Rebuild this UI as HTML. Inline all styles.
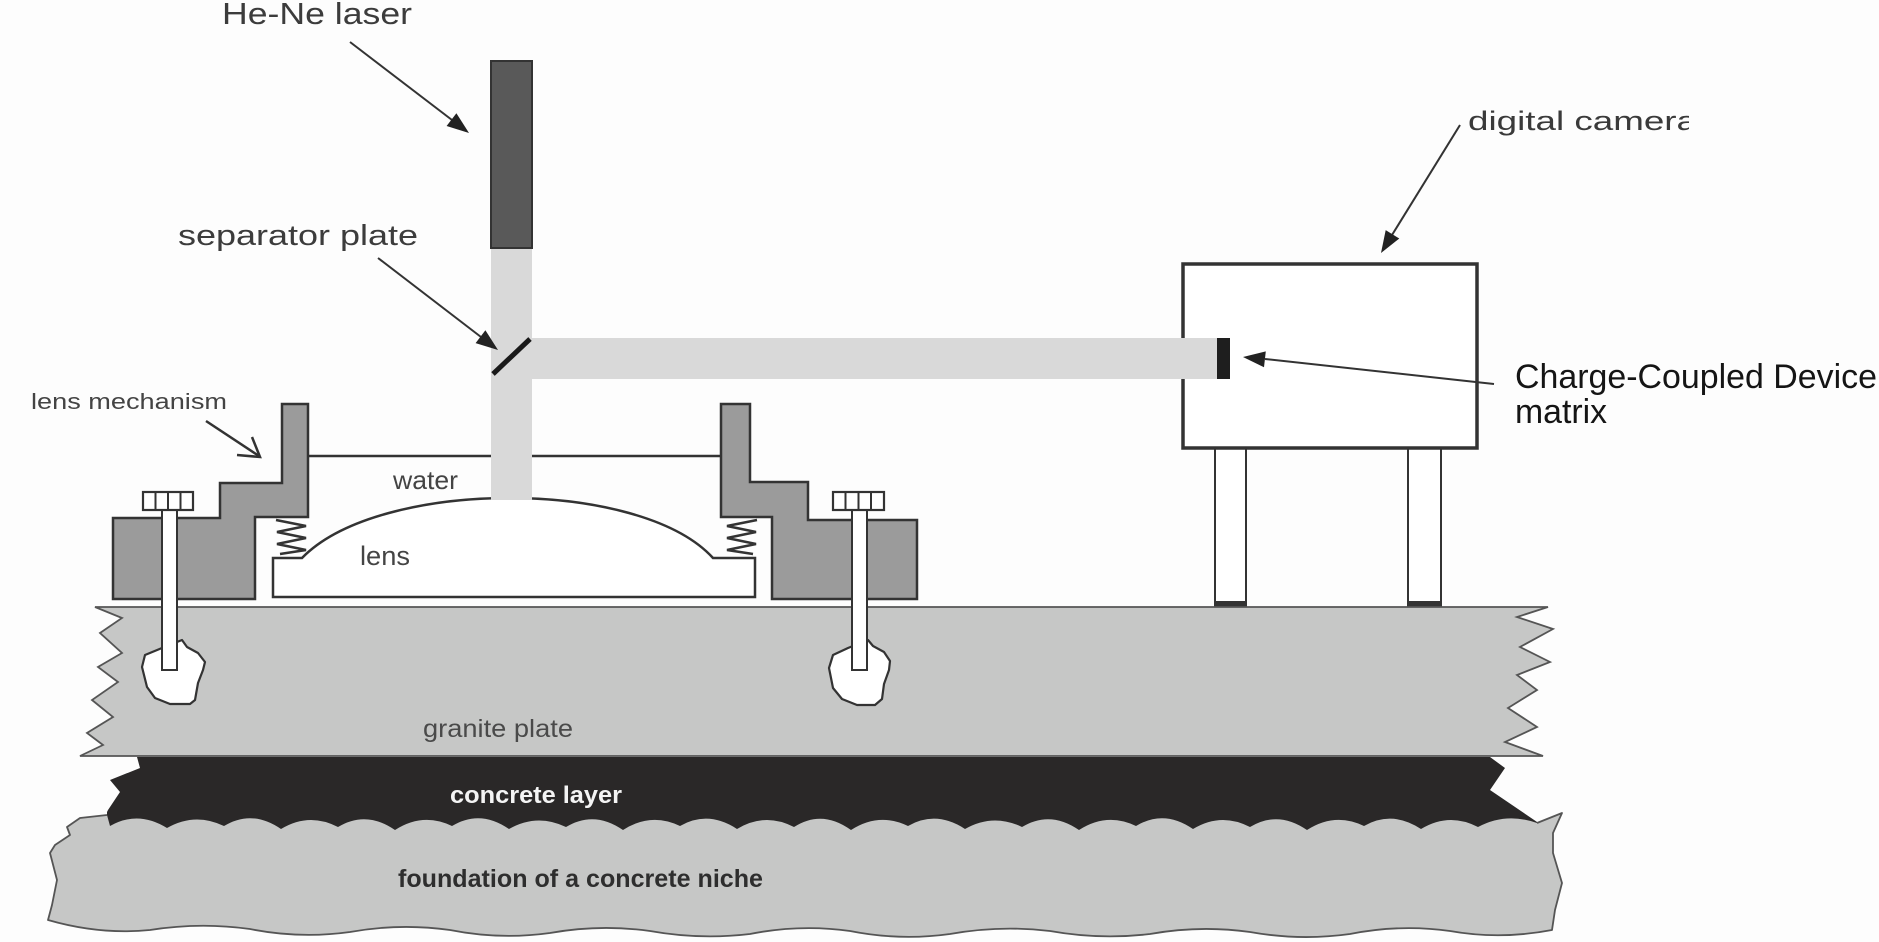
<!DOCTYPE html>
<html>
<head>
<meta charset="utf-8">
<style>
  html,body{margin:0;padding:0;background:#fdfdfd;}
  svg{display:block;}
  text{font-family:"Liberation Sans",Arial,sans-serif;}
</style>
</head>
<body>
<svg width="1879" height="942" viewBox="0 0 1879 942" xmlns="http://www.w3.org/2000/svg">
  <defs>
    <clipPath id="camclip"><rect x="0" y="0" width="1689" height="942"/></clipPath>
  </defs>
  <rect x="0" y="0" width="1879" height="942" fill="#fdfdfd"/>

  <!-- concrete layer (black) -->
  <path d="M137,757 L1490,757 L1505,768 L1490,790 L1540,824 L1540,845 L107,845 L107,812 L108,810 L120,792 L110,780 L140,768 Z" fill="#2a2828"/>

  <!-- foundation fill (no stroke on top edge) -->
  <path d="M107,815 L110,826 Q138,810 167,828 Q195,812 224,826 Q252,809 281,829 Q309,812 338,827 Q366,810 395,830 Q423,812 452,826 Q480,809 509,829 Q537,813 566,827 Q594,810 623,830 Q651,812 680,826 Q708,810 737,829 Q765,812 794,827 Q822,809 851,830 Q879,812 908,826 Q936,810 965,829 Q993,813 1022,827 Q1050,810 1079,830 Q1107,812 1136,826 Q1164,809 1193,829 Q1221,812 1250,827 Q1278,810 1307,830 Q1335,812 1364,826 Q1392,810 1421,829 Q1449,812 1478,827 Q1506,812 1537,823 L1562,813 L1553,833 L1553,853 L1562,883 L1555,910 L1552,930 Q1500,940 1450,931 Q1400,924 1350,934 Q1300,941 1250,932 Q1200,925 1150,934 Q1100,940 1050,931 Q1000,925 950,934 Q900,941 850,931 Q800,924 750,934 Q700,940 650,931 Q600,924 550,933 Q500,940 450,930 Q400,923 350,932 Q300,939 250,929 Q200,922 150,930 Q100,935 48,920 L52,905 L57,880 L50,853 L55,845 L70,835 L67,827 L80,818 Z" fill="#c6c7c6"/>
  <!-- foundation outline: sides and bottom -->
  <path d="M1537,823 L1562,813 L1553,833 L1553,853 L1562,883 L1555,910 L1552,930 Q1500,940 1450,931 Q1400,924 1350,934 Q1300,941 1250,932 Q1200,925 1150,934 Q1100,940 1050,931 Q1000,925 950,934 Q900,941 850,931 Q800,924 750,934 Q700,940 650,931 Q600,924 550,933 Q500,940 450,930 Q400,923 350,932 Q300,939 250,929 Q200,922 150,930 Q100,935 48,920 L52,905 L57,880 L50,853 L55,845 L70,835 L67,827 L80,818 L107,815" fill="none" stroke="#555" stroke-width="1.8" stroke-linejoin="round"/>

  <!-- camera legs -->
  <rect x="1215" y="448" width="31" height="159" fill="#fff" stroke="#333" stroke-width="2"/>
  <rect x="1215" y="601" width="31" height="6" fill="#333"/>
  <rect x="1408" y="448" width="33" height="159" fill="#fff" stroke="#333" stroke-width="2"/>
  <rect x="1408" y="601" width="33" height="6" fill="#333"/>

  <!-- granite plate -->
  <path d="M95,607 L1548,607 L1517,617 L1553,629 L1520,647 L1550,662 L1517,675 L1537,690 L1508,708 L1537,727 L1505,742 L1543,756 L80,756 L103,745 L87,733 L113,717 L92,700 L118,682 L98,667 L122,653 L100,633 L122,618 Z" fill="#c6c7c6" stroke="#555" stroke-width="1.8" stroke-linejoin="miter"/>

  <!-- anchor blobs -->
  <path d="M162,648 L145,655 L142,667 L147,687 L155,698 L170,704 L190,704 L195,700 L198,683 L203,670 L205,662 L198,653 L187,647 L182,640 Z" fill="#fff" stroke="#333" stroke-width="2.2" stroke-linejoin="round"/>
  <path d="M848,648 L833,655 L829,668 L833,688 L842,699 L857,705 L875,705 L882,699 L884,684 L889,670 L890,661 L884,652 L873,646 L868,640 Z" fill="#fff" stroke="#333" stroke-width="2.2" stroke-linejoin="round"/>

  <!-- lens tray + lens -->
  <path d="M273,558 L302,558 C380,478 640,478 713,558 L755,558 L755,597 L273,597 Z" fill="#fff" stroke="#333" stroke-width="2.5" stroke-linejoin="miter"/>

  <!-- water line -->
  <line x1="308" y1="456" x2="721" y2="456" stroke="#333" stroke-width="2.5"/>

  <!-- mechanism blocks -->
  <path d="M282,404 L308,404 L308,517 L255,517 L255,599 L113,599 L113,518 L220,518 L220,483 L282,483 Z" fill="#9b9b9b" stroke="#333" stroke-width="2.5"/>
  <path d="M721,404 L750,404 L750,482 L808,482 L808,520 L917,520 L917,599 L772,599 L772,517 L721,517 Z" fill="#9b9b9b" stroke="#333" stroke-width="2.5"/>

  <!-- springs -->
  <path d="M276,520 L306,526 L277,532 L306,538 L277,544 L306,550 L280,554" fill="none" stroke="#333" stroke-width="2.5"/>
  <path d="M757,520 L727,526 L756,532 L727,538 L756,544 L727,550 L753,554" fill="none" stroke="#333" stroke-width="2.5"/>

  <!-- bolts -->
  <rect x="162" y="510" width="15" height="160" fill="#fff" stroke="#333" stroke-width="2"/>
  <rect x="143" y="492" width="50" height="18" fill="#fff" stroke="#333" stroke-width="2.2"/>
  <line x1="155.5" y1="492" x2="155.5" y2="510" stroke="#333" stroke-width="2"/>
  <line x1="168" y1="492" x2="168" y2="510" stroke="#333" stroke-width="2"/>
  <line x1="180.5" y1="492" x2="180.5" y2="510" stroke="#333" stroke-width="2"/>

  <rect x="852" y="510" width="15" height="160" fill="#fff" stroke="#333" stroke-width="2"/>
  <rect x="833" y="492" width="51" height="18" fill="#fff" stroke="#333" stroke-width="2.2"/>
  <line x1="845.5" y1="492" x2="845.5" y2="510" stroke="#333" stroke-width="2"/>
  <line x1="858.5" y1="492" x2="858.5" y2="510" stroke="#333" stroke-width="2"/>
  <line x1="871" y1="492" x2="871" y2="510" stroke="#333" stroke-width="2"/>

  <!-- camera box -->
  <rect x="1183" y="264" width="294" height="184" fill="#fff" stroke="#333" stroke-width="3.5"/>

  <!-- beams -->
  <rect x="491" y="248" width="41" height="252" fill="#d9d9d9"/>
  <rect x="531" y="338" width="687" height="41" fill="#d9d9d9"/>

  <!-- laser -->
  <rect x="491" y="61" width="41" height="187" fill="#595959" stroke="#333" stroke-width="2"/>

  <!-- separator plate -->
  <line x1="493" y1="374" x2="530" y2="339" stroke="#1a1a1a" stroke-width="5"/>

  <!-- CCD -->
  <rect x="1217" y="338" width="13" height="41" fill="#1e1e1e"/>

  <!-- arrows -->
  <g stroke="#333" stroke-width="2" fill="#222">
    <line x1="350" y1="42" x2="452" y2="120"/>
    <polygon points="469,133 446.6,126 456.4,113.2" stroke="none"/>
    <line x1="378" y1="258" x2="481" y2="337"/>
    <polygon points="498,350 475.6,343.1 485.4,330.3" stroke="none"/>
    <line x1="1460" y1="125" x2="1392" y2="235"/>
    <polygon points="1381,253 1399.3,238.5 1385.7,230.1" stroke="none"/>
    <line x1="1494" y1="384" x2="1265" y2="359"/>
    <polygon points="1243,357 1265.8,351.4 1264,367.3" stroke="none"/>
    <line x1="206" y1="421" x2="259" y2="456" stroke-width="2.5"/>
    <polyline points="237,455 260,457 252,437" fill="none" stroke-width="2.5"/>
  </g>

  <!-- labels -->
  <text x="222" y="24" font-size="31" fill="#3c3c3c" textLength="190" lengthAdjust="spacingAndGlyphs">He-Ne laser</text>
  <text x="178" y="245" font-size="29" fill="#3c3c3c" textLength="240" lengthAdjust="spacingAndGlyphs">separator plate</text>
  <text x="31" y="409" font-size="22" fill="#444" textLength="196" lengthAdjust="spacingAndGlyphs">lens mechanism</text>
  <g clip-path="url(#camclip)">
    <text x="1468" y="130" font-size="27" fill="#3a3a3a" textLength="229" lengthAdjust="spacingAndGlyphs">digital camera</text>
  </g>
  <text x="1515" y="388" font-size="34" fill="#151515" textLength="362" lengthAdjust="spacingAndGlyphs">Charge-Coupled Device</text>
  <text x="1515" y="423" font-size="34" fill="#151515" textLength="92" lengthAdjust="spacingAndGlyphs">matrix</text>
  <text x="393" y="489" font-size="26" fill="#444" textLength="65" lengthAdjust="spacingAndGlyphs">water</text>
  <text x="360" y="565" font-size="27" fill="#444" textLength="50" lengthAdjust="spacingAndGlyphs">lens</text>
  <text x="423" y="737" font-size="25" fill="#4a4a4a" textLength="150" lengthAdjust="spacingAndGlyphs">granite plate</text>
  <text x="450" y="803" font-size="24" font-weight="bold" fill="#f4f4f4" textLength="172" lengthAdjust="spacingAndGlyphs">concrete layer</text>
  <text x="398" y="887" font-size="25" font-weight="bold" fill="#2e2e2e" textLength="365" lengthAdjust="spacingAndGlyphs">foundation of a concrete niche</text>
</svg>
</body>
</html>
